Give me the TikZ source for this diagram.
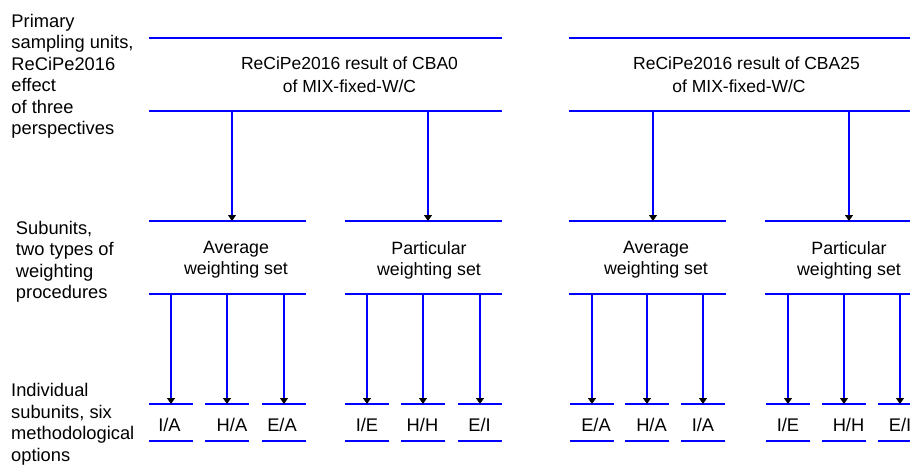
\documentclass[tikz,border=0pt]{standalone}
\usepackage{fontspec}
\setmainfont{Liberation Sans}
\usetikzlibrary{arrows.meta,calc}
\begin{document}
\begin{tikzpicture}[x=1pt,y=-1pt,
  rule/.style={draw=blue,line width=1.1pt},
  arr/.style={draw=blue,line width=1.1pt,-{Triangle[width=8pt,length=6pt,black]}},
  bigbox/.style={rectangle,inner sep=0pt,outer sep=0pt,minimum width=353pt,minimum height=73pt},
  midbox/.style={rectangle,inner sep=0pt,outer sep=0pt,minimum width=157pt,minimum height=73pt},
  smallbox/.style={rectangle,inner sep=0pt,outer sep=0pt,minimum width=44.5pt,minimum height=37pt},
  txt/.style={inner sep=0pt,outer sep=0pt,font=\fontsize{18.3}{21.5}\selectfont},
  toptxt/.style={txt,align=center,anchor=north,font=\fontsize{17.5}{22.3}\selectfont},
  midtxt/.style={txt,align=center,anchor=north,font=\fontsize{17.8}{21}\selectfont},
  smalltxt/.style={txt,anchor=base},
  sidetxt/.style={txt,align=left,anchor=north west}
]
\useasboundingbox (0,0) rectangle (910,466);

% boxes (only top and bottom rules drawn)
\node[bigbox] (t1) at (325.5,74.5) {};
\node[bigbox] (t2) at (745.5,74.5) {};
\node[midbox] (m1) at (227.5,257.5) {};
\node[midbox] (m2) at (423.5,257.5) {};
\node[midbox] (m3) at (647,257.5) {};
\node[midbox] (m4) at (843.5,257.5) {};
\node[smallbox] (s11) at (171,422.5) {};
\node[smallbox] (s12) at (227,422.5) {};
\node[smallbox] (s13) at (284,422.5) {};
\node[smallbox] (s21) at (367,422.5) {};
\node[smallbox] (s22) at (423,422.5) {};
\node[smallbox] (s23) at (480,422.5) {};
\node[smallbox] (s31) at (592,422.5) {};
\node[smallbox] (s32) at (647,422.5) {};
\node[smallbox] (s33) at (703,422.5) {};
\node[smallbox] (s41) at (788,422.5) {};
\node[smallbox] (s42) at (844,422.5) {};
\node[smallbox] (s43) at (900,422.5) {};

\foreach \b in {t1,t2,m1,m2,m3,m4,s11,s12,s13,s21,s22,s23,s31,s32,s33,s41,s42,s43}{
  \draw[rule] (\b.north west) -- (\b.north east);
  \draw[rule] (\b.south west) -- (\b.south east);
}

% arrows from top boxes to weighting-set boxes
\coordinate (a1) at ($(m1.north)+(4.5,0)$);
\coordinate (a2) at ($(m2.north)+(4.5,0)$);
\coordinate (a3) at ($(m3.north)+(6,0)$);
\coordinate (a4) at ($(m4.north)+(5.5,0)$);
\draw[arr] (a1 |- t1.south) -- (a1);
\draw[arr] (a2 |- t1.south) -- (a2);
\draw[arr] (a3 |- t2.south) -- (a3);
\draw[arr] (a4 |- t2.south) -- (a4);

% arrows from weighting-set boxes to option boxes
\foreach \m/\s in {m1/s11,m1/s12,m1/s13,m2/s21,m2/s22,m2/s23,m3/s31,m3/s32,m3/s33,m4/s41,m4/s42,m4/s43}{
  \draw[arr] (\s.north |- \m.south) -- (\s.north);
}

% texts
\node[toptxt] (c1) at (349.5,57.2) {ReCiPe2016 result of CBA0\\of MIX-fixed-W/C};
\node[toptxt] (c2) at (746.5,57.2) {ReCiPe2016 result of CBA25\\\hspace*{-15pt}of MIX-fixed-W/C};

\node[midtxt] (w1) at (236,241.3) {Average\\weighting set};
\node[midtxt] (w2) at (429,241.3) {Particular\\weighting set};
\node[midtxt] (w3) at (656,241.3) {Average\\weighting set};
\node[midtxt] (w4) at (849,241.3) {Particular\\weighting set};

\node[smalltxt] (o11) at (169.5,431) {I/A};
\node[smalltxt] (o12) at (232,431) {H/A};
\node[smalltxt] (o13) at (282,431) {E/A};
\node[smalltxt] (o21) at (367,431) {I/E};
\node[smalltxt] (o22) at (422.5,431) {H/H};
\node[smalltxt] (o23) at (479.5,431) {E/I};
\node[smalltxt] (o31) at (596,431) {E/A};
\node[smalltxt] (o32) at (651.5,431) {H/A};
\node[smalltxt] (o33) at (703,431) {I/A};
\node[smalltxt] (o41) at (788,431) {I/E};
\node[smalltxt] (o42) at (848.5,431) {H/H};
\node[smalltxt] (o43) at (900,431) {E/I};

\node[sidetxt] (l1) at (11.5,13.8) {Primary\\sampling units,\\ReCiPe2016\\effect\\of three\\perspectives};
\node[sidetxt] (l2) at (16,221.2) {Subunits,\\two types of\\weighting\\procedures};
\node[sidetxt] (l3) at (11.2,383.7) {Individual\\subunits, six\\methodological\\options};
\end{tikzpicture}
\end{document}
